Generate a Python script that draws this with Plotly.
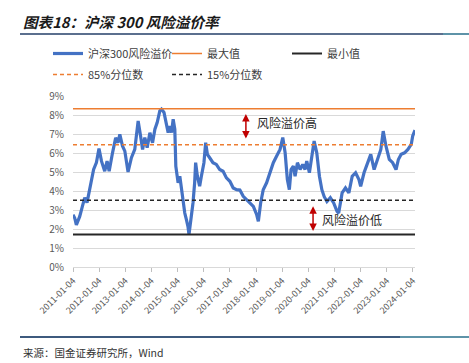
import plotly.graph_objects as go

# ---- data ----
dates = [
    "2011-01-04", "2011-01-28", "2011-02-20", "2011-03-18", "2011-04-08", "2011-05-15", "2011-06-17",
    "2011-07-19", "2011-08-15", "2011-09-17", "2011-10-19", "2011-11-27", "2012-01-02", "2012-02-06",
    "2012-03-22", "2012-04-24", "2012-05-23", "2012-07-09", "2012-08-22", "2012-09-24", "2012-10-19",
    "2012-11-25", "2012-12-28", "2013-02-11", "2013-03-30", "2013-05-16", "2013-07-02", "2013-08-05",
    "2013-09-02", "2013-10-03", "2013-11-05", "2013-12-13", "2014-01-19", "2014-02-21", "2014-03-25",
    "2014-05-01", "2014-05-24", "2014-06-28", "2014-08-01", "2014-08-25", "2014-09-17", "2014-10-12",
    "2014-11-03", "2014-11-26", "2014-12-10", "2015-01-11", "2015-02-04", "2015-02-27", "2015-03-21",
    "2015-04-14", "2015-05-07", "2015-05-29", "2015-06-12", "2015-07-06", "2015-08-07", "2015-08-30",
    "2015-09-13", "2015-10-07", "2015-11-08", "2015-12-02", "2016-01-07", "2016-01-31", "2016-02-24",
    "2016-03-27", "2016-05-12", "2016-06-28", "2016-08-14", "2016-09-30", "2016-11-16", "2017-01-03",
    "2017-02-19", "2017-04-07", "2017-05-23", "2017-07-09", "2017-08-25", "2017-10-11", "2017-11-27",
    "2018-01-13", "2018-02-05", "2018-03-09", "2018-04-14", "2018-05-31", "2018-07-17", "2018-09-02",
    "2018-10-19", "2018-12-05", "2019-01-12", "2019-02-14", "2019-03-17", "2019-04-14", "2019-05-08",
    "2019-06-09", "2019-07-03", "2019-08-05", "2019-09-11", "2019-10-18", "2019-11-19", "2019-12-13",
    "2020-01-19", "2020-02-21", "2020-03-25", "2020-05-01", "2020-06-07", "2020-07-11", "2020-08-13",
    "2020-09-20", "2020-11-06", "2020-12-23", "2021-02-08", "2021-03-03", "2021-04-20", "2021-06-06",
    "2021-07-23", "2021-09-08", "2021-10-25", "2021-12-11", "2022-01-04", "2022-02-20", "2022-04-08",
    "2022-05-25", "2022-07-11", "2022-08-27", "2022-10-13", "2022-11-15", "2022-12-23", "2023-02-08",
    "2023-03-27", "2023-05-13", "2023-06-15", "2023-07-24", "2023-09-09", "2023-10-26", "2023-12-12",
    "2024-01-01", "2024-02-02",
]
premium = [
    2.75, 2.58, 2.22, 2.45, 2.66, 3.19, 3.65,
    3.39, 3.90, 4.44, 5.13, 5.50, 6.24, 5.57,
    5.04, 5.57, 5.04, 6.01, 6.80, 6.54, 6.98,
    6.37, 6.10, 5.00, 5.75, 6.19, 7.69, 6.90,
    6.19, 6.81, 6.28, 7.07, 6.54, 7.25, 7.60,
    8.22, 8.31, 8.13, 7.51, 7.07, 7.42, 7.07,
    7.78, 7.25, 5.31, 4.43, 4.78, 4.07, 3.54,
    2.84, 2.49, 2.13, 1.71, 2.31, 3.37, 4.43,
    5.49, 4.78, 4.25, 4.78, 5.49, 6.54, 5.93,
    5.75, 5.49, 5.40, 5.13, 5.04, 4.69, 4.51,
    4.16, 4.07, 4.05, 3.72, 3.54, 3.37, 3.19,
    2.75, 2.40, 3.37, 4.07, 4.43, 4.96, 5.49,
    5.84, 6.19, 6.81, 6.01, 4.60, 4.07, 5.13,
    5.31, 4.78, 5.49, 5.13, 5.40, 5.13, 5.57,
    4.96, 5.84, 6.63, 6.01, 4.78, 4.07, 3.70,
    3.45, 3.65, 3.37, 2.93, 2.84, 3.90, 4.16,
    3.90, 4.78, 4.96, 4.60, 4.25, 4.96, 5.49,
    5.93, 5.13, 5.66, 6.19, 7.15, 6.37, 5.66,
    5.49, 5.13, 5.66, 5.93, 6.01, 6.19, 6.46,
    6.90, 7.20,
]
max_value = 8.33
min_value = 1.71
p85_value = 6.44
p15_value = 3.51

tick_labels = ["2011-01-04", "2012-01-04", "2013-01-04", "2014-01-04", "2015-01-04",
               "2016-01-04", "2017-01-04", "2018-01-04", "2019-01-04", "2020-01-04",
               "2021-01-04", "2022-01-04", "2023-01-04", "2024-01-04"]
y_ticks = [0, 1, 2, 3, 4, 5, 6, 7, 8, 9]
y_tick_text = ["0%", "1%", "2%", "3%", "4%", "5%", "6%", "7%", "8%", "9%"]

series_names = ["沪深300风险溢价", "最大值", "最小值", "85%分位数", "15%分位数"]

FONT = "Noto Sans CJK SC"
span = [dates[0], dates[-1]]

# plot area in pixels: x 73..415, y 96..267
PL, PR, PT, PB = 73, 415, 96, 267


def px(xp):
    return (xp - PL) / (PR - PL)


def py(yp):
    return (PB - yp) / (PB - PT)


fig = go.Figure()
fig.add_trace(go.Scatter(x=dates, y=premium, mode="lines", name=series_names[0], legend="legend",
                         legendgroup="a", line=dict(color="#4472C4", width=3.2)))
fig.add_trace(go.Scatter(x=span, y=[max_value, max_value], mode="lines", name=series_names[1],
                         legend="legend2", legendgroup="b", line=dict(color="#ED7D31", width=1.5)))
fig.add_trace(go.Scatter(x=span, y=[min_value, min_value], mode="lines", name=series_names[2],
                         legend="legend3", legendgroup="c", line=dict(color="#262626", width=2)))
fig.add_trace(go.Scatter(x=span, y=[p85_value, p85_value], mode="lines", name=series_names[3],
                         legend="legend", legendgroup="d",
                         line=dict(color="#ED7D31", width=1.5, dash="4px,3px")))
fig.add_trace(go.Scatter(x=span, y=[p15_value, p15_value], mode="lines", name=series_names[4],
                         legend="legend2", legendgroup="e",
                         line=dict(color="#262626", width=1.5, dash="4px,3px")))

leg_common = dict(orientation="v", xref="paper", yref="paper", xanchor="left", yanchor="top",
                  font=dict(size=11, color="#404040", family=FONT), bgcolor="rgba(0,0,0,0)",
                  tracegroupgap=2, itemwidth=30)

fig.update_layout(
    width=469, height=363,
    margin=dict(l=PL, r=469 - PR, t=PT, b=363 - PB, autoexpand=False),
    paper_bgcolor="white", plot_bgcolor="white",
    font=dict(family=FONT, color="#404040"),
    showlegend=True,
    legend=dict(x=px(48), y=py(39), **leg_common),
    legend2=dict(x=px(167), y=py(39), **leg_common),
    legend3=dict(x=px(287), y=py(39), **leg_common),
    xaxis=dict(type="date", range=["2011-01-04", "2024-02-02"],
               tickvals=tick_labels, ticktext=tick_labels, tickangle=-45,
               tickfont=dict(size=9, color="#595959", family=FONT),
               ticks="outside", ticklen=4, tickcolor="#BFBFBF",
               showline=True, linecolor="#D9D9D9", linewidth=1,
               showgrid=False, zeroline=False),
    yaxis=dict(range=[0, 9], tickvals=y_ticks, ticktext=y_tick_text,
               tickfont=dict(size=10, color="#595959", family=FONT),
               showgrid=True, gridcolor="#D9D9D9", gridwidth=1,
               zeroline=False, showline=False, ticklabelstandoff=8),
)

# red double-headed arrows with labels
fig.add_annotation(x="2017-08-15", y=8.05, ax="2017-08-15", ay=6.68, xref="x", yref="y",
                   axref="x", ayref="y", showarrow=True, arrowside="end+start",
                   arrowhead=2, arrowsize=1, arrowwidth=1.5, arrowcolor="#C00000", text="")
fig.add_annotation(x="2017-12-15", y=7.62, xref="x", yref="y", xanchor="left", showarrow=False,
                   text="风险溢价高", font=dict(size=12, color="#262626", family=FONT))
fig.add_annotation(x="2020-03-10", y=3.2, ax="2020-03-10", ay=1.82, xref="x", yref="y",
                   axref="x", ayref="y", showarrow=True, arrowside="end+start",
                   arrowhead=2, arrowsize=1, arrowwidth=1.5, arrowcolor="#C00000", text="")
fig.add_annotation(x="2020-06-10", y=2.49, xref="x", yref="y", xanchor="left", showarrow=False,
                   text="风险溢价低", font=dict(size=12, color="#262626", family=FONT))

# title, rules and source
fig.add_annotation(x=px(21), y=py(22), xref="paper", yref="paper", showarrow=False,
                   text="<b><i>图表18：沪深 300 风险溢价率</i></b>",
                   font=dict(size=14.6, color="#1a1a1a", family=FONT), xanchor="left", yanchor="middle")
fig.add_shape(type="line", xref="paper", yref="paper", x0=px(20), x1=px(443),
              y0=py(34), y1=py(34), line=dict(color="#5B6F8E", width=2))
fig.add_shape(type="line", xref="paper", yref="paper", x0=px(443), x1=px(469),
              y0=py(34), y1=py(34), line=dict(color="#5E93A8", width=2))
fig.add_shape(type="line", xref="paper", yref="paper", x0=px(20), x1=px(400),
              y0=py(337), y1=py(337), line=dict(color="#3E5A7E", width=2))
fig.add_shape(type="line", xref="paper", yref="paper", x0=px(400), x1=px(469),
              y0=py(337), y1=py(337), line=dict(color="#5E93A8", width=2))
fig.add_annotation(x=px(21), y=py(352), xref="paper", yref="paper",
                   showarrow=False, xanchor="left", yanchor="middle",
                   text="来源：国金证券研究所，Wind",
                   font=dict(size=10.5, color="#333333", family=FONT))

fig.write_html("out.html", config={"displayModeBar": False},
               post_script="document.body.style.margin='0';")
